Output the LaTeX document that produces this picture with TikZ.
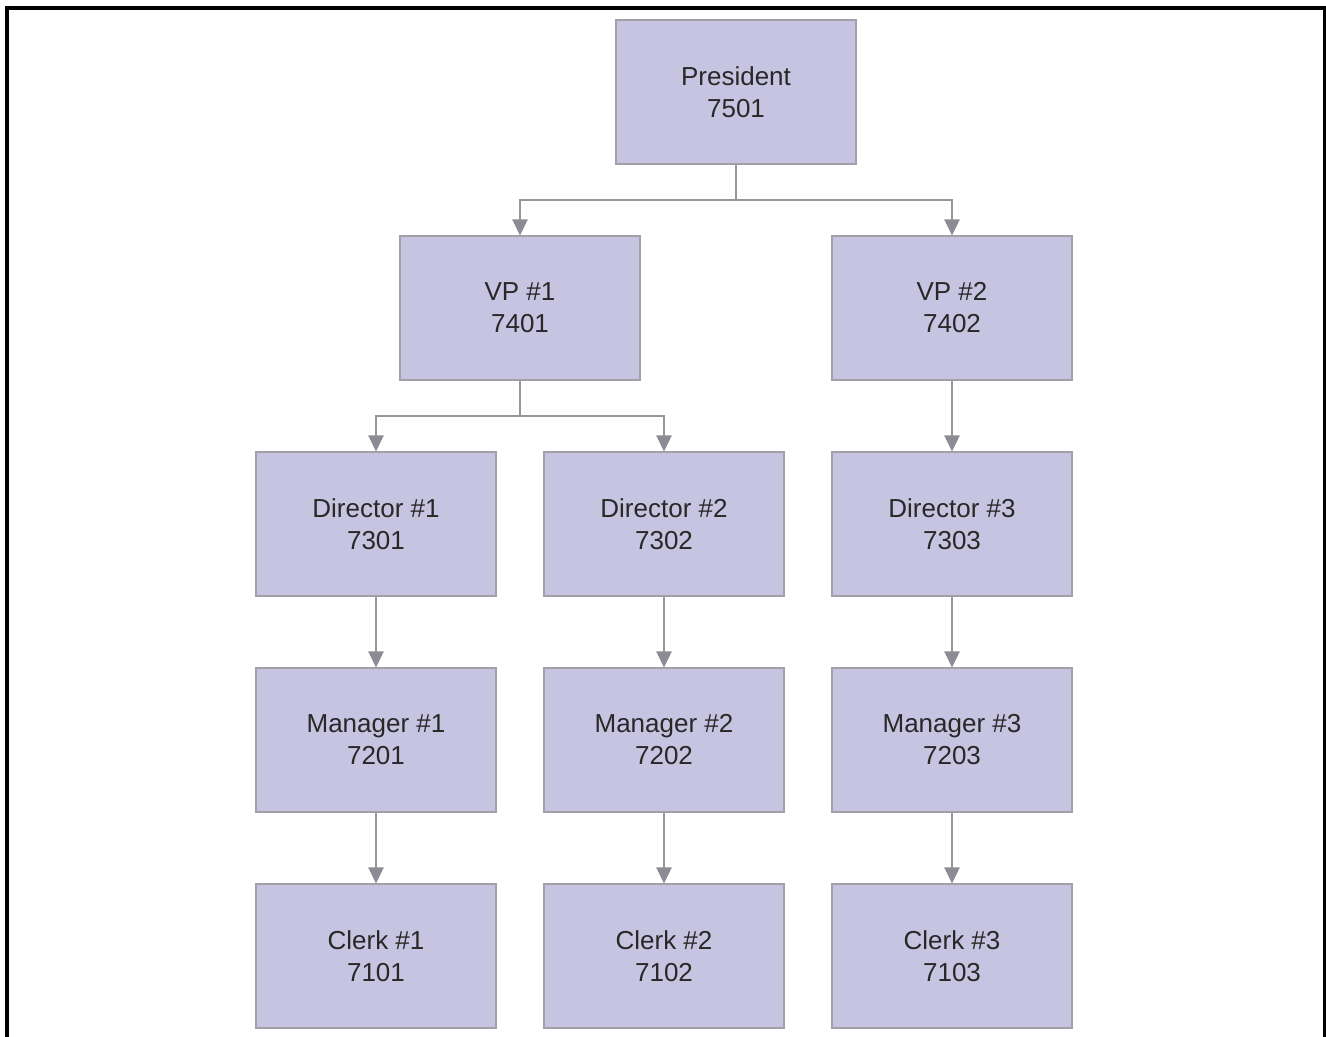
\documentclass[tikz,border=0pt]{standalone}
\usepackage{fontspec}
\setmainfont{Liberation Sans}
\usetikzlibrary{arrows.meta}
\definecolor{boxfill}{RGB}{199,196,225}
\definecolor{boxline}{RGB}{160,160,166}
\definecolor{conn}{RGB}{150,150,155}
\definecolor{tip}{RGB}{140,140,148}
\definecolor{txt}{RGB}{40,40,40}
\begin{document}
\begin{tikzpicture}[x=0.75pt,y=-0.75pt,
  orgbox/.style={draw=boxline,fill=boxfill,line width=0.9pt,minimum width=180pt,minimum height=108pt,inner sep=0pt,align=center,text=txt,font=\fontsize{19.5pt}{24pt}\selectfont},
  conn/.style={draw=conn,line width=1.1pt,-{Triangle[length=12pt,width=11.5pt,fill=tip,color=tip]}},
  plain/.style={draw=conn,line width=1.1pt}]
\useasboundingbox (0,0) rectangle (1326,1036);
\draw[line width=2.4pt,line cap=butt] (7,1040) -- (7,8) -- (1324.5,8) -- (1324.5,1040);
\node[orgbox] (pres) at (736,92) {President\\7501};
\node[orgbox] (vp1) at (520,308) {VP \#1\\7401};
\node[orgbox] (vp2) at (952,308) {VP \#2\\7402};
\node[orgbox] (d1) at (376,524) {Director \#1\\7301};
\node[orgbox] (d2) at (664,524) {Director \#2\\7302};
\node[orgbox] (d3) at (952,524) {Director \#3\\7303};
\node[orgbox] (m1) at (376,740) {Manager \#1\\7201};
\node[orgbox] (m2) at (664,740) {Manager \#2\\7202};
\node[orgbox] (m3) at (952,740) {Manager \#3\\7203};
\node[orgbox] (c1) at (376,956) {Clerk \#1\\7101};
\node[orgbox] (c2) at (664,956) {Clerk \#2\\7102};
\node[orgbox] (c3) at (952,956) {Clerk \#3\\7103};
\coordinate (pj) at (736,200);
\coordinate (vj) at (520,416);
\draw[plain] (pres.south) -- (pj);
\draw[conn] (pj) -| (vp1.north);
\draw[conn] (pj) -| (vp2.north);
\draw[plain] (vp1.south) -- (vj);
\draw[conn] (vj) -| (d1.north);
\draw[conn] (vj) -| (d2.north);
\draw[conn] (vp2) -- (d3);
\draw[conn] (d1) -- (m1);
\draw[conn] (d2) -- (m2);
\draw[conn] (d3) -- (m3);
\draw[conn] (m1) -- (c1);
\draw[conn] (m2) -- (c2);
\draw[conn] (m3) -- (c3);
\end{tikzpicture}
\end{document}
